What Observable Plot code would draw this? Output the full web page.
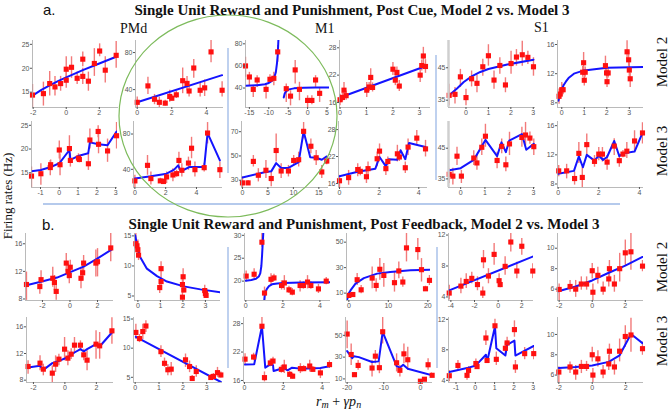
<!DOCTYPE html>
<html><head><meta charset="utf-8">
<script src="https://cdn.jsdelivr.net/npm/d3@7"></script>
<script src="https://cdn.jsdelivr.net/npm/@observablehq/plot@0.6"></script>
<style>
body{margin:0;background:#fff;}
#fig{position:relative;width:669px;height:410px;overflow:hidden;background:#fff;}
</style></head><body><div id="fig"></div>
<script>
// ---------- tick labels (per row, per column) ----------
const cueM2_xt = [[-2,0,2],[0,2,4],[-15,-10,-5,0,5],[0,1,2,3],[0,1,2,3],[0,1,2,3]];
const cueM2_yt = [[15,20,25],[40,80],[40,60,80],[16,22,28],[35,45],[8,12,16]];
const cueM3_xt = [[-1,0,1,2,3],[0,2,4],[0,5,10,15],[0,2,4],[0,1,2,3],[0,2,4]];
const cueM3_yt = [[15,20,25],[40,80],[30,50,70],[16,22,28],[35,45],[8,12,16]];
const fbM2_xt = [[-2,0,2],[0,1,2,3],[0,2,4],[0,10,20],[-4,-2,0,2],[-2,0,2]];
const fbM2_yt = [[8,12,16],[5,10,15],[20,25,30],[10,30,50],[4,8,12],[6,8,10]];
const fbM3_xt = [[-2,0,2],[0,1,2,3],[0,2,4],[-20,-10,0],[-1,0,1,2,3],[-2,0,2]];
const fbM3_yt = [[8,12,16],[5,10,15],[16,22,28],[10,30,50],[4,8,12],[6,8,10]];

// ---------- data: [x, y, errLow, errHigh] and fitted curves [x, y] ----------
// a. Post Cue, Model 2
const cueM2_1 = [[-2.04,14.4,11.8,16.6],[-1.38,14.7,12.1,17.1],[-1.0,16.8,14.2,19.3],[-0.68,16.1,14.2,18.3],[-0.34,16.8,15.2,18.3],[0,19.8,16.9,22.4],[0,17.5,15.8,19.2],[0.32,20.2,17.9,22.4],[0.66,17.9,16.6,19.2],[1.0,21.9,20.3,23.4],[1.0,18.3,16.6,20.0],[1.34,17.3,15.2,19.2],[1.7,21.0,18.3,24.1],[2.02,23.6,22.4,25.1],[2.36,19.6,16.9,22.4],[3.02,22.7,20.0,25.6]];
const cueM2_1_fit = [[-2.04,14.3],[-1.5,15.5],[-1,16.4],[-0.5,17.3],[0,18.1],[1,19.6],[2,21.0],[3.02,22.4]];
const cueM2_2 = [[0,26.3,20.7,31.9],[0.62,44.0,34.8,53.3],[1.0,29.6,23.7,34.8],[1.28,26.3,20.7,31.9],[1.62,25.4,22.4,28.4],[1.88,32.6,26.3,39.3],[2.0,30.7,27.7,33.7],[2.26,34.4,30.4,38.4],[2.63,49.6,35.6,63.3],[2.88,46.7,38.5,54.1],[3.0,38.5,31.9,44.8],[3.27,63.3,52.2,72.6],[3.64,39.3,31.9,46.7],[3.9,41.9,32.6,50.4],[4.27,80.7,68.9,93],[4.91,39.3,31.9,48.5]];
const cueM2_2_fit = [[0,26.3],[4.91,55.6]];
const cueM2_3 = [[-16.0,60.0,49.7,67.9],[-15.0,50.0,42.1,54.2],[-14.0,38.8,31.5,42.1],[-13.0,47.3,40.6,51.2],[-10.7,38.8,30.0,43.6],[-9.7,47.9,44,52],[-8.7,48.8,42.1,54.2],[-7.7,72.7,63.3,78.5],[-5.5,39.4,27.0,43.6],[-4.4,32.7,23.9,37.6],[-3.2,56.4,43.6,64.8],[-2.1,38.8,28.5,45.2],[0,28.8,22.4,33.0],[1.1,28.8,25,33],[2.05,47.3,40.6,51.2],[3.1,35.2,27.0,40.6]];
const cueM2_3_fitA = [[-16,42.1],[-13,42.6],[-11,43.5],[-10,44.6],[-9.2,46.5],[-8.6,49.5],[-8.2,54],[-7.9,62],[-7.7,70],[-7.5,85]];
const cueM2_3_fitB = [[-6.15,31.5],[-5.9,35],[-5.5,37.3],[-4.8,38.8],[-3.5,39.7],[-1,40.2],[2,40.5],[5.6,40.6]];
const cueM2_4 = [[0,16.6,15.3,17.8],[0.09,17.1,16.1,18.1],[0.15,18.7,17.5,20.4],[0.23,17.5,16.5,18.5],[1.01,18.7,17.1,20.4],[1.1,19.4,18.4,20.4],[1.16,21.5,19.5,23.4],[1.23,19.3,18.3,20.3],[2.0,23.3,21.9,24.8],[2.09,20.9,19.7,22.1],[2.15,22.6,21.4,23.8],[2.24,19.6,18.4,20.8],[3.03,22.0,20.4,23.4],[3.09,24.1,22.9,25.3],[3.15,26.2,24.1,28.1],[3.23,23.9,22.4,25.4]];
const cueM2_4_fit = [[0,17.1],[3.25,24.0]];
const cueM2_5 = [[-0.75,36.5,33.3,39.9],[-0.49,36.8,33.8,38.9],[-0.25,42.2,38.9,44.5],[0,35.8,33.3,38.4],[0.25,41.6,39.1,44.0],[0.49,40.2,37.3,42.8],[0.75,45.3,42.4,47.6],[1.0,48.7,45.5,52.1],[1.25,41.2,38.4,44.0],[1.51,45.7,43.0,48.1],[1.76,39.7,37.3,41.9],[2.01,46.3,43.0,50.1],[2.25,48.3,45.5,50.6],[2.51,49.0,45.5,53.2],[2.76,48.2,46.0,50.1],[3.01,45.3,42.4,48.1]];
const cueM2_5_fit = [[-0.75,36.5],[-0.4,38.6],[-0.1,40.6],[0.27,42.4],[0.64,43.7],[1.0,44.6],[1.84,46.0],[3.01,47.5]];
const cueM2_6 = [[-0.12,8.9,7.8,9.9],[-0.07,9.2,8.5,9.9],[0,9.8,8.95,10.8],[0.06,9.8,9.1,10.5],[0.93,12.2,11.5,13.0],[0.97,13.5,12.4,14.9],[1.0,11.1,10.3,12.1],[1.04,12.2,11.5,12.9],[1.94,13.1,12.1,14.4],[1.99,12.1,11.4,12.8],[2.01,10.9,10.1,11.9],[2.06,12.1,11.4,12.8],[2.90,15.0,14.0,16.5],[2.97,13.9,13.0,15.1],[3.0,12.5,11.5,13.5],[3.04,11.3,10.1,12.1]];
const cueM2_6_fit = [[-0.15,8.3],[-0.08,9.1],[0,9.8],[0.08,10.4],[0.18,10.9],[0.3,11.4],[0.54,12.0],[0.99,12.45],[2.01,12.8],[3.63,12.9]];

// a. Post Cue, Model 3
const cueM3_1 = [[-1.48,14.3,11.9,16.2],[-0.98,14.8,12.4,16.9],[-0.48,16.1,14.4,17.6],[-0.46,16.7,15.7,17.7],[0,19.8,17.9,21.7],[0.04,16.7,14.4,19.0],[0.54,20.1,17.6,22.8],[0.59,17.6,16.2,19.0],[1.02,18.1,17.2,19.0],[1.07,17.8,17.1,18.5],[1.55,16.9,15.5,19.0],[1.63,21.9,20.0,24.2],[2.07,23.7,22.4,24.9],[2.09,21.0,19.0,23.5],[2.57,19.6,17.2,22.1],[3.05,22.8,20.0,25.6]];
const cueM3_1_fit = [[-1.48,15.3],[-0.98,15.6],[-0.46,16.2],[0,17.0],[0.54,19.8],[0.59,17.7],[1.05,18.6],[1.54,19.1],[1.63,21.4],[2.09,21.0],[2.57,20.8],[3.05,23.7]];
const cueM3_2 = [[0,26.9,19.4,33.3],[0.82,44.5,33.3,55.7],[1.04,29.5,22.1,37.0],[1.65,26.9,24,30],[1.86,26.2,23.2,29.2],[2.06,31.4,23.9,37.0],[2.47,33.6,25.8,40.7],[2.71,35.1,31,39],[2.86,50.1,38.9,59.4],[3.05,38.9,31.4,46.4],[3.48,47.1,38.9,53.8],[3.68,63.9,52.0,76.3],[3.9,39.6,31.4,48.2],[4.5,41.9,37,47],[4.72,81.1,68.8,93],[5.52,39.6,29.5,48.2]];
const cueM3_2_fit = [[0,29.5],[1.04,32.1],[2.06,35.1],[2.55,39.6],[2.81,44.5],[2.99,37.8],[3.53,42.6],[4.5,42.6],[4.72,81.1],[5.52,50.1]];
const cueM3_3 = [[0,27.8,24.0,32.7],[1.1,27.8,25.8,29.8],[2.14,45.5,40.9,50.4],[3.12,34.1,28.6,39.5],[4.61,38.2,31.4,46.3],[5.65,31.4,24.6,36.8],[6.62,54.5,45.0,68.1],[7.6,37.6,31.4,43.6],[9.03,37.6,32.7,42.2],[10.06,46.3,42.2,50.4],[11.04,46.9,40.9,53.1],[12.01,70.3,64.0,77.6],[13.44,58.0,51.8,64.0],[14.48,48.5,42.2,54.5],[15.58,36.8,31.4,42.2],[16.56,45.8,42.8,48.8]];
const cueM3_3_fit = [[0,32.2],[4.55,36.8],[5.65,37.3],[6.62,44.1],[7.6,40.1],[9.03,40.1],[11.04,45.0],[12.01,70.3],[13.31,49.0],[14.48,48.5],[15.58,46.9],[16.56,49.6]];
const cueM3_4 = [[0,16.6,15.1,17.8],[0.46,17.3,15.6,18.9],[0.92,19.1,17.5,20.4],[1.05,18.7,17.7,19.7],[1.36,17.5,16.0,18.9],[1.44,19.3,17.8,20.8],[1.9,21.5,19.7,23.0],[2.02,23.2,21.5,24.8],[2.34,19.3,17.8,20.8],[2.44,20.9,19.9,21.9],[2.92,22.6,20.8,24.5],[3.02,21.9,20.9,22.9],[3.32,19.5,18.2,20.8],[3.46,24.1,22.25,25.9],[3.9,26.1,24.5,27.8],[4.34,23.7,21.9,25.6]];
const cueM3_4_fit = [[0,17.6],[0.92,18.6],[1.81,19.3],[2.02,21.9],[2.34,19.8],[2.49,21.4],[2.92,21.3],[3.08,23.4],[3.32,21.4],[3.51,25.0],[4.34,24.1]];
const cueM3_5 = [[-0.47,36.5,33.5,38.3],[-0.32,35.9,33.0,38.5],[-0.15,42.4,39.4,45.3],[0.03,35.9,33.5,37.8],[0.54,41.8,39.4,44.2],[0.67,40.2,37.8,42.6],[0.87,45.3,42.6,48.0],[1.02,48.9,45.3,52.8],[1.5,41.0,38.3,43.7],[1.69,45.6,43.2,48.0],[1.86,39.6,37.3,42.1],[2.01,46.4,42.6,50.2],[2.52,48.5,45.3,51.8],[2.67,49.3,45.9,53.4],[2.85,48.3,46.3,50.3],[3.01,45.5,42.6,48.0]];
const cueM3_5_fit = [[-0.47,37.8],[0,38.5],[0.54,41.2],[1.02,47.7],[1.5,42.4],[1.68,46.9],[1.86,43.7],[2.0,47.5],[2.52,49.6],[2.7,44.5],[3.01,46.4]];
const cueM3_6 = [[0.03,9.8,9.0,10.55],[0.42,9.8,8.7,10.7],[0.81,8.75,7.85,9.65],[1.02,12.2,10.8,13.7],[1.19,8.9,7.5,10.3],[1.41,13.4,11.9,14.85],[1.79,11.1,10.3,11.9],[2.0,12.1,11.2,13.0],[2.18,12.1,11.0,13.0],[2.41,11.0,9.9,11.9],[2.76,13.2,11.9,14.2],[3.01,11.2,10.3,12.1],[3.19,12.1,11.6,12.6],[3.38,12.5,11.5,13.7],[3.76,13.9,12.6,15.3],[4.15,15.0,13.5,16.4]];
const cueM3_6_fit = [[0,9.4],[0.78,9.8],[1.02,11.8],[1.22,10.3],[1.41,12.0],[1.79,11.2],[2.0,11.9],[2.21,11.3],[2.41,11.7],[2.76,13.9],[3.01,11.8],[3.19,12.2],[3.76,12.45],[4.15,15.0]];

// b. Post Feedback, Model 2
const fbM2_1 = [[-3.16,10.1,7.8,11.9],[-2.19,9.8,8.7,10.9],[-2.1,10.8,10.0,12.1],[-1.25,11.0,9.7,12.6],[-1.13,10.4,9.2,11.4],[-1.0,9.1,7.8,10.2],[-0.27,13.2,11.9,14.6],[-0.14,12.0,10.9,13.1],[-0.05,11.4,10.2,12.6],[0.02,12.6,11.7,13.6],[0.8,11.0,9.5,12.6],[0.92,11.8,10.7,12.9],[0.99,13.2,11.9,14.3],[1.88,13.2,11.2,15.1],[2.0,13.4,11.2,15.3],[2.96,15.4,13.4,17.5]];
const fbM2_1_fit = [[-3.16,10.0],[-1.9,10.6],[-0.94,11.1],[0.02,11.9],[0.99,12.7],[1.95,13.8],[3.04,15.2]];
const fbM2_2 = [[-0.09,13.7,12.3,15.4],[-0.04,13.35,12.65,14.05],[0,12.7,11.5,14.3],[0.03,11.8,10.9,13.2],[0.97,6.4,5.4,7.3],[1.03,9.55,8.4,10.7],[1.03,7.4,6.5,8.4],[1.98,6.9,5.9,7.9],[2.01,8.2,6.5,9.55],[1.98,4.8,4.3,5.9],[2.04,6.0,5.5,6.5],[2.97,5.9,5.1,6.8],[3.0,5.4,4.9,5.9],[3.03,5.1,4.6,5.6]];
const fbM2_2_fit = [[-0.12,15.1],[-0.06,13.9],[0,12.9],[0.1,11.5],[0.4,9.55],[0.85,8.3],[1.29,7.4],[2.04,6.6],[2.78,6.1],[3.67,5.6]];
const fbM2_3 = [[0.02,21.1,19.8,22.2],[0.45,21.5,20.5,22.7],[0.87,28.5,27.4,30.4],[1.01,17.4,15.8,18.7],[1.36,20.4,19.1,21.6],[1.52,20.7,19.9,21.5],[1.93,19.05,18.05,20.05],[2.08,19.6,18.0,21.2],[2.33,18.1,17.3,18.9],[2.51,17.6,16.8,18.4],[2.93,19.05,17.6,20.1],[3.11,19.05,18.25,19.85],[3.33,19.8,18.3,21.2],[3.51,19.05,18.25,19.85],[3.92,18.3,17.3,19.3],[4.34,20.0,19.2,20.8]];
const fbM2_3_fitA = [[0,20.1],[0.3,20.25],[0.55,20.5],[0.7,21.0],[0.78,21.7],[0.84,23.3],[0.88,25.8],[0.92,28.8],[0.95,31]];
const fbM2_3_fitB = [[0.98,15.0],[1.02,16.8],[1.08,17.8],[1.14,18.3],[1.25,18.9],[1.41,19.3],[1.7,19.5],[2.04,19.6],[3,19.7],[4.57,19.75]];
const fbM2_4 = [[0,8.2,6.7,9.7],[1.01,8.9,7.4,10.4],[2.11,20.5,16.05,25.3],[3.12,12.6,9.5,16.05],[5.91,21.8,13.4,30.5],[6.92,16.05,10.8,21.3],[7.85,28.7,20.0,37.1],[8.86,23.9,14.7,33.2],[11.56,18.2,10.8,26.6],[12.66,27.4,21.3,34.5],[13.67,18.7,14.7,22.6],[14.6,45.5,34.5,56.8],[17.47,44.2,35.8,52.9],[18.4,28.4,18.7,37.1],[19.41,13.4,11.4,15.4],[20.42,20.0,16.05,23.9]];
const fbM2_4_fit = [[-0.42,5.0],[0,9.8],[0.42,12.1],[1.69,17.4],[3.8,21.8],[7.17,25.3],[10.5,26.6],[15.6,27.9],[20.7,28.4]];
const fbM2_5 = [[-4.14,4.5,3.6,5.5],[-3.15,5.4,4.4,6.4],[-2.7,6.0,5.1,7.0],[-2.23,6.4,5.7,7.2],[-1.75,5.6,4.8,6.6],[-1.3,4.5,3.8,5.3],[-1.24,8.8,7.65,10.0],[-0.82,6.7,5.7,7.65],[-0.34,9.5,8.1,10.9],[0.08,6.1,5.3,7.0],[0.17,5.6,5.2,6.0],[0.59,7.95,6.8,9.2],[1.07,11.1,9.8,12.2],[1.58,7.35,6.35,8.5],[2.0,10.55,9.4,11.55],[2.93,7.35,6.35,8.3]];
const fbM2_5_fit = [[-4.14,4.85],[2.99,9.25]];
const fbM2_6 = [[-2.0,5.97,4.9,6.5],[-1.34,6.26,5.7,6.85],[-1.0,6.0,5.2,6.85],[-0.66,6.5,5.9,7.2],[-0.34,6.5,5.9,7.2],[0,7.8,7.0,8.5],[0.04,5.7,4.9,6.5],[0.34,7.35,6.5,8.15],[0.66,6.0,5.4,6.7],[1.0,7.0,6.2,7.85],[1.04,8.0,7.0,8.8],[1.34,6.5,5.7,7.35],[1.66,8.0,6.7,9.5],[2.0,9.55,8.3,10.8],[2.34,9.65,7.85,11.45],[3.04,8.25,7.7,8.8]];
const fbM2_6_fit = [[-2.06,5.8],[-1.0,6.26],[0,6.85],[1.0,7.6],[2.0,8.3],[3.04,9.15]];

// b. Post Feedback, Model 3
const fbM3_1 = [[-2.34,10.05,8.9,10.9],[-1.58,10.55,9.4,11.65],[-1.37,9.65,8.65,10.4],[-0.8,9.05,7.65,10.15],[-0.59,10.4,9.15,11.65],[-0.38,11.15,10.15,11.9],[-0.02,12.65,10.9,14.4],[0.19,11.3,10.15,12.4],[0.4,11.9,11.1,12.7],[0.61,13.25,12.15,14.4],[0.99,13.25,12.4,13.9],[1.2,11.8,10.9,12.65],[1.41,11.0,9.4,12.4],[1.98,13.4,11.15,15.4],[2.21,13.15,11.15,15.15],[2.99,15.4,13.4,17.35]];
const fbM3_1_fit = [[-2.34,9.9],[-1.58,10.15],[-1.37,9.55],[-0.8,10.55],[-0.38,10.9],[0.15,11.4],[0.61,12.15],[0.99,12.65],[1.2,12.3],[1.41,12.65],[1.98,13.4],[2.21,13.05],[2.99,15.15]];
const fbM3_2 = [[0.03,12.7,11.5,14.1],[0.18,11.65,10.95,12.35],[0.32,12.85,11.5,14.1],[0.45,13.8,12.7,14.7],[1.08,9.4,8.4,10.4],[1.23,7.4,6.7,8.3],[1.37,6.3,5.25,7.2],[1.51,6.4,5.25,7.55],[2.11,8.0,6.7,9.0],[2.28,6.85,5.8,7.8],[2.39,4.8,4.3,5.3],[2.56,6.0,5.0,7.0],[3.17,4.97,4.5,5.5],[3.28,5.15,4.65,5.65],[3.45,5.8,5.0,6.7],[3.59,5.4,4.9,5.9]];
const fbM3_2_fit = [[0.03,11.95],[3.59,4.2]];
const fbM3_3 = [[0.03,20.5,19.2,21.65],[0.47,20.95,20.15,21.75],[0.9,27.45,25.85,29.3],[1.03,16.6,15.7,17.8],[1.33,19.7,18.9,20.5],[1.47,20.1,19.3,20.9],[1.9,18.35,17.55,19.15],[2.05,18.85,17.45,20.25],[2.33,17.3,16.7,17.9],[2.48,16.9,16.3,17.5],[2.88,18.5,17.45,19.55],[3.05,18.5,17.9,19.1],[3.36,19.05,17.8,20.25],[3.52,18.35,17.75,18.95],[3.91,17.6,16.4,18.5],[4.38,19.35,18.55,20.15]];
const fbM3_3_fit = [[0.03,19.35],[0.5,19.4],[0.9,27.45],[1.07,18.7],[1.33,19.4],[1.47,19.2],[1.5,18.0],[2.02,18.65],[2.22,18.15],[2.45,18.7],[2.88,18.5],[3.91,18.65],[4.38,19.0]];
const fbM3_4 = [[-20,51.2,37.6,63.3],[-18.9,32.4,22.4,42.1],[-18.0,13.9,11.9,15.9],[-17.0,22.4,17.9,27.0],[-13.2,20.0,11.8,27.0],[-12.3,30.9,23.9,36.1],[-11.2,20.3,14.8,25.5],[-10.3,53.3,42.1,66.4],[-6.5,24.8,16.4,33.0],[-5.6,17.9,11.8,22.4],[-4.5,33.0,23.9,42.1],[-3.45,27.6,17.9,39.1],[0,7.9,6.4,9.4],[1.1,9.7,8.2,11.2],[2.1,23.0,17.9,28.5],[3.2,13.3,10.8,15.8]];
const fbM3_4_fit = [[-20,35.5],[-18.6,29.1],[-18.2,30.9],[-16.8,30.0],[-13.2,25.5],[-11.4,26.1],[-10.3,53.3],[-6.5,21.8],[-5.6,20.3],[-4.7,23.0],[-3.45,19.4],[3.2,13.3]];
const fbM3_5 = [[-1.35,4.6,3.8,5.3],[-0.9,5.95,5.3,6.6],[-0.43,4.65,4.0,5.3],[-0.35,5.3,4.8,5.8],[0.03,6.2,5.5,6.8],[0.09,5.8,5.4,6.2],[0.55,9.55,8.55,10.5],[0.61,6.6,6.2,7.0],[1.02,11.15,10.3,12.0],[1.09,6.75,5.95,7.7],[1.56,8.2,7.25,9.0],[1.65,8.9,8.15,9.65],[2.03,10.65,9.65,11.8],[2.08,5.75,4.9,6.6],[2.56,7.5,6.7,8.3],[3.03,7.5,6.7,8.3]];
const fbM3_5_fit = [[-1.35,5.1],[-0.43,5.6],[0.03,5.95],[0.55,7.35],[0.61,6.4],[1.02,11.05],[1.09,8.2],[1.56,7.25],[1.65,8.65],[2.03,9.2],[2.08,7.25],[3.03,8.5]];
const fbM3_6 = [[-2.0,6.3,5.25,6.8],[-1.33,6.8,6.15,7.3],[-0.99,6.3,5.5,6.95],[-0.65,6.85,6.15,7.45],[-0.34,6.85,6.35,7.35],[0,8.0,7.3,8.75],[0.04,6.0,5.25,6.65],[0.34,7.6,6.8,8.4],[0.65,6.3,5.65,6.95],[0.99,7.1,6.45,7.95],[1.03,8.35,7.45,9.05],[1.33,6.8,6.0,7.45],[1.64,8.35,7.3,9.55],[1.98,9.8,8.75,10.85],[2.32,9.95,8.25,11.6],[3.01,8.6,7.95,9.25]];
const fbM3_6_fit = [[-2.0,6.7],[-0.99,6.8],[0,6.95],[0.99,7.3],[1.64,7.95],[2.32,10.05],[3.01,9.15]];

// ---------- text ----------
const titleA = "Single Unit Reward and Punishment, Post Cue, Model 2 vs. Model 3";
const titleB = "Single Unit Reward and Punishment, Post Feedback, Model 2 vs. Model 3";
const areaLabels = ["PMd", "M1", "S1"];
const rowLabels = ["Model 2", "Model 3", "Model 2", "Model 3"];
const yLabel = "Firing rates (Hz)";

// ---------- layout (pixel frame of each panel + scale domains) ----------
const panels = [
  {l:32,r:118,t:40,b:107,xd:[-2.04,3.16],yd:[11.8,25.8],xt:cueM2_xt[0],yt:cueM2_yt[0],pts:cueM2_1,fits:[cueM2_1_fit]},
  {l:135,r:223,t:40,b:107,xd:[-0.1,4.99],yd:[20.7,93],xt:cueM2_xt[1],yt:cueM2_yt[1],pts:cueM2_2,fits:[cueM2_2_fit]},
  {l:245,r:329,t:40,b:107,xd:[-16.0,5.64],yd:[22.4,83],xt:cueM2_xt[2],yt:cueM2_yt[2],pts:cueM2_3,fits:[cueM2_3_fitA,cueM2_3_fitB]},
  {l:339,r:430,t:40,b:107,xd:[-0.02,3.42],yd:[14.9,29.6],xt:cueM2_xt[3],yt:cueM2_yt[3],pts:cueM2_4,fits:[cueM2_4_fit]},
  {l:448,r:535,t:40,b:107,xd:[-0.78,3.1],yd:[32.75,53.4],xt:cueM2_xt[4],yt:cueM2_yt[4],pts:cueM2_5,fits:[cueM2_5_fit],thick:true},
  {l:557,r:643,t:40,b:107,xd:[-0.19,3.63],yd:[7.36,16.55],xt:cueM2_xt[5],yt:cueM2_yt[5],pts:cueM2_6,fits:[cueM2_6_fit]},

  {l:31,r:117,t:121,b:187,xd:[-1.48,3.1],yd:[11.9,25.8],xt:cueM3_xt[0],yt:cueM3_yt[0],pts:cueM3_1,fits:[cueM3_1_fit]},
  {l:133,r:222,t:121,b:187,xd:[-0.09,5.69],yd:[19.4,94.2],xt:cueM3_xt[1],yt:cueM3_yt[1],pts:cueM3_2,fits:[cueM3_2_fit]},
  {l:241,r:328,t:121,b:187,xd:[-0.19,16.9],yd:[24.0,78.4],xt:cueM3_xt[2],yt:cueM3_yt[2],pts:cueM3_3,fits:[cueM3_3_fit]},
  {l:338,r:427,t:121,b:187,xd:[-0.05,4.44],yd:[15.1,29.8],xt:cueM3_xt[3],yt:cueM3_yt[3],pts:cueM3_4,fits:[cueM3_4_fit]},
  {l:448,r:535,t:121,b:187,xd:[-0.5,3.08],yd:[32.2,53.7],xt:cueM3_xt[4],yt:cueM3_yt[4],pts:cueM3_5,fits:[cueM3_5_fit],thick:true},
  {l:557,r:643,t:121,b:187,xd:[-0.03,4.2],yd:[7.52,16.57],xt:cueM3_xt[5],yt:cueM3_yt[5],pts:cueM3_6,fits:[cueM3_6_fit]},

  {l:25,r:113,t:233,b:300,xd:[-3.23,3.16],yd:[7.78,17.49],xt:fbM2_xt[0],yt:fbM2_yt[0],pts:fbM2_1,fits:[fbM2_1_fit]},
  {l:134,r:220,t:233,b:300,xd:[-0.15,3.67],yd:[4.25,15.4],xt:fbM2_xt[1],yt:fbM2_yt[1],pts:fbM2_2,fits:[fbM2_2_fit]},
  {l:244,r:330,t:233,b:300,xd:[-0.07,4.57],yd:[15.77,30.4],xt:fbM2_xt[2],yt:fbM2_yt[2],pts:fbM2_3,fits:[fbM2_3_fitA,fbM2_3_fitB]},
  {l:346,r:430,t:233,b:300,xd:[-0.59,20.68],yd:[4.2,56.8],xt:fbM2_xt[3],yt:fbM2_yt[3],pts:fbM2_4,fits:[fbM2_4_fit]},
  {l:448,r:533,t:233,b:300,xd:[-4.2,2.99],yd:[3.54,12.2],xt:fbM2_xt[4],yt:fbM2_yt[4],pts:fbM2_5,fits:[fbM2_5_fit]},
  {l:557,r:643,t:233,b:300,xd:[-2.1,3.1],yd:[4.89,11.44],xt:fbM2_xt[5],yt:fbM2_yt[5],pts:fbM2_6,fits:[fbM2_6_fit]},

  {l:26,r:113,t:317,b:382,xd:[-2.44,3.09],yd:[7.65,17.4],xt:fbM3_xt[0],yt:fbM3_yt[0],pts:fbM3_1,fits:[fbM3_1_fit]},
  {l:133,r:222,t:317,b:382,xd:[-0.07,3.66],yd:[4.11,15.26],xt:fbM3_xt[1],yt:fbM3_yt[1],pts:fbM3_2,fits:[fbM3_2_fit]},
  {l:243,r:330,t:317,b:382,xd:[-0.05,4.43],yd:[15.57,29.3],xt:fbM3_xt[2],yt:fbM3_yt[2],pts:fbM3_3,fits:[fbM3_3_fit]},
  {l:345,r:432,t:317,b:382,xd:[-20.45,3.3],yd:[6.7,66.4],xt:fbM3_xt[3],yt:fbM3_yt[3],pts:fbM3_4,fits:[fbM3_4_fit]},
  {l:448,r:534,t:317,b:382,xd:[-1.39,3.07],yd:[3.71,12.24],xt:fbM3_xt[4],yt:fbM3_yt[4],pts:fbM3_5,fits:[fbM3_5_fit]},
  {l:557,r:643,t:317,b:382,xd:[-2.08,3.07],yd:[5.27,11.67],xt:fbM3_xt[5],yt:fbM3_yt[5],pts:fbM3_6,fits:[fbM3_6_fit]}
];

const fig = document.getElementById("fig");

function addPanel(p){
  const ml = 20, mr = 3, mt = 3, mb = 11;
  const w = p.r - p.l, h = p.b - p.t;
  const rows = p.pts.map(([x, y, lo, hi]) => ({x, y, lo, hi}));
  const marks = [
    Plot.ruleX(rows, {x: "x", y1: "lo", y2: "hi", stroke: "#f27a7a", strokeWidth: 1.4, clip: true}),
    ...p.fits.map(f => Plot.line(f, {x: d => d[0], y: d => d[1], stroke: "#1414ff", strokeWidth: 2, clip: true})),
    Plot.dot(rows, {x: "x", y: "y", symbol: "square", r: 2.9, fill: "#ff1010"}),
    Plot.ruleX([p.xd[0]], {stroke: p.thick ? "#cfcfcf" : "#a8a8a8", strokeWidth: p.thick ? 2.5 : 0.8}),
    Plot.ruleY([p.yd[0]], {stroke: "#a8a8a8", strokeWidth: 0.8}),
    Plot.axisX({ticks: p.xt, tickFormat: d => String(d), tickSize: 2, tickPadding: 1, label: null, fontSize: 7}),
    Plot.axisY({ticks: p.yt, tickFormat: d => String(d), tickSize: 2, tickPadding: 1, label: null, fontSize: 7})
  ];
  const svg = Plot.plot({
    width: w + ml + mr, height: h + mt + mb,
    marginLeft: ml, marginRight: mr, marginTop: mt, marginBottom: mb,
    x: {domain: p.xd}, y: {domain: p.yd},
    style: {background: "transparent", color: "#555", fontFamily: "'Liberation Sans', sans-serif", fontSize: "7px", overflow: "visible"},
    marks
  });
  Object.assign(svg.style, {position: "absolute", left: (p.l - ml) + "px", top: (p.t - mt) + "px"});
  fig.appendChild(svg);
}
panels.forEach(addPanel);

// ---------- overlay: titles, labels, annotations ----------
const ov = d3.select(fig).append("svg")
  .attr("width", 669).attr("height", 410)
  .style("position", "absolute").style("left", "0px").style("top", "0px")
  .style("pointer-events", "none");

const sep = "#9db8e6";
[[43,204,620,204],[228,48,228,173],[436,55,436,180],[228,247,228,368],[437,247,437,368]].forEach(([x1,y1,x2,y2]) =>
  ov.append("line").attr("x1",x1).attr("y1",y1).attr("x2",x2).attr("y2",y2).attr("stroke",sep).attr("stroke-width",1.3));
ov.append("ellipse").attr("cx",228).attr("cy",116).attr("rx",109).attr("ry",101)
  .attr("fill","none").attr("stroke","#7dbb5c").attr("stroke-width",1.2);

const serif = "'Liberation Serif', 'Times New Roman', serif";
function txt(x, y, s, o = {}) {
  const t = ov.append("text").attr("x", x).attr("y", y).text(s)
    .attr("font-family", o.ff || serif).attr("font-size", o.fs || 14)
    .attr("font-weight", o.fw || "normal").attr("text-anchor", o.anchor || "start").attr("fill", "#111");
  if (o.rot) t.attr("transform", `rotate(-90 ${x} ${y})`);
  return t;
}
txt(43, 15, "a.", {ff: "'Liberation Sans', Arial, sans-serif", fs: 15});
txt(352, 15, titleA, {fs: 15, fw: "bold", anchor: "middle"});
txt(42, 230, "b.", {ff: "'Liberation Sans', Arial, sans-serif", fs: 15});
txt(364, 229, titleB, {fs: 15, fw: "bold", anchor: "middle"});
txt(120, 33, areaLabels[0], {fs: 14});
txt(315, 33, areaLabels[1], {fs: 14});
txt(534, 32, areaLabels[2], {fs: 14});
txt(12, 196, yLabel, {fs: 13, anchor: "middle", rot: true});
[62, 151, 267, 341].forEach((cy, i) => txt(667, cy, rowLabels[i], {fs: 15, anchor: "middle", rot: true}));

// x-axis label r_m + γ p_n
const xl = ov.append("text").attr("x", 316).attr("y", 406).attr("font-family", serif).attr("font-size", 14).attr("fill", "#111");
xl.append("tspan").attr("font-style", "italic").text("r");
xl.append("tspan").attr("font-style", "italic").attr("font-size", 10).attr("dy", 2).text("m");
xl.append("tspan").attr("dy", -2).text(" + ");
xl.append("tspan").attr("font-style", "italic").text("γp");
xl.append("tspan").attr("font-style", "italic").attr("font-size", 10).attr("dy", 2).text("n");
</script>
</body></html>
